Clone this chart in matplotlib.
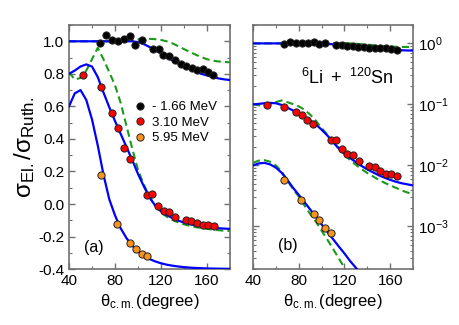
import matplotlib
matplotlib.use('Agg')
import matplotlib.pyplot as plt
from matplotlib.ticker import MultipleLocator, LogLocator, NullFormatter

plt.rcParams['font.family'] = ['Liberation Sans', 'DejaVu Sans']
plt.rcParams['mathtext.fontset'] = 'custom'
plt.rcParams['mathtext.rm'] = 'Liberation Sans'
plt.rcParams['mathtext.it'] = 'Liberation Sans:italic'

# === data (ratio to Rutherford) ===
energies = ['- 1.66 MeV', '3.10 MeV', '5.95 MeV']
colors = ['#000000', '#ff0000', '#f7931e']
lin_offsets = [0.0, -0.2, -0.4]     # shift used in panel (a)
log_scales = [1.0, 0.1, 0.01]       # factor used in panel (b)

theta_bk = [67, 72.2, 77.7, 82.9, 87.8, 93, 97.4, 103.2, 112.8, 118, 122, 127.2,
            132, 137.4, 141.7, 146.7, 151, 156.2, 160.6, 165.5]
ratio_bk = [0.99, 1.037, 1.01, 1.0, 1.015, 1.035, 0.98, 1.006, 0.95, 0.953, 0.918, 0.912,
            0.883, 0.863, 0.846, 0.836, 0.826, 0.83, 0.81, 0.793]

theta_rd = [51.9, 67.5, 77.4, 82.6, 87.5, 92.7, 107.8, 112.5, 117.7, 122.3, 127.2, 132.4,
            141.7, 146.4, 151.3, 156.2, 160.9, 165.8]
ratio_rd = [0.991, 0.917, 0.757, 0.667, 0.546, 0.478, 0.258, 0.261, 0.185, 0.156, 0.148, 0.119,
            0.099, 0.095, 0.082, 0.072, 0.072, 0.066]

theta_or = [67.5, 82, 93, 98, 103.2, 107.8]
ratio_or = [0.576, 0.275, 0.158, 0.126, 0.095, 0.079]

# calculations, sampled every 5 degrees from 40 to 180
theta_calc = list(range(40, 181, 5))

blue_bk = [1.0] * 12 + [0.995, 0.983, 0.965, 0.945, 0.925, 0.903, 0.882, 0.862, 0.845,
                        0.83, 0.815, 0.8, 0.79, 0.78, 0.772, 0.766, 0.762]
green_bk = [1.0] * 10 + [1.004, 1.008, 1.012, 1.015, 1.015, 1.013, 1.008, 1.0, 0.987, 0.97,
                         0.952, 0.935, 0.918, 0.903, 0.89, 0.881, 0.876, 0.873, 0.871]

blue_rd = [1.0, 1.02, 1.045, 1.058, 1.045, 0.98, 0.885, 0.795, 0.71, 0.63, 0.55, 0.47,
           0.385, 0.31, 0.24, 0.19, 0.155, 0.132, 0.113, 0.098, 0.086, 0.077, 0.069,
           0.063, 0.058, 0.054, 0.051, 0.049, 0.047]
green_rd = [1.01, 0.965, 0.975, 1.02, 1.09, 1.16, 1.09, 1.01, 0.93, 0.82, 0.68, 0.54,
            0.41, 0.32, 0.245, 0.19, 0.15, 0.122, 0.102, 0.087, 0.075, 0.066, 0.058,
            0.052, 0.047, 0.043, 0.039, 0.036, 0.034]

blue_or = [1.0, 1.08, 1.1, 1.04, 0.92, 0.76, 0.58, 0.43, 0.33, 0.25, 0.19, 0.145,
           0.108, 0.082, 0.062, 0.047, 0.036, 0.027, 0.021, 0.016, 0.012, 0.0092, 0.007,
           0.0054, 0.0042, 0.0033, 0.0026, 0.002, 0.0016]
green_or = [1.1, 1.2, 1.22, 1.15, 1.0, 0.8, 0.57, 0.41, 0.31, 0.22, 0.16, 0.12,
            0.085, 0.061, 0.043, 0.03, 0.021, 0.015, 0.011, 0.0075, 0.0053, 0.0037, 0.0026,
            0.0018, 0.0013, 0.0009, 0.00065, 0.00046, 0.00033]

data_theta = [theta_bk, theta_rd, theta_or]
data_ratio = [ratio_bk, ratio_rd, ratio_or]
blue_curves = [blue_bk, blue_rd, blue_or]
green_curves = [green_bk, green_rd, green_or]

BLUE = '#0000ff'
GREEN = '#1a9a1a'
SPINE = '#707070'

fig = plt.figure(figsize=(4.6, 3.25), dpi=100)
ax1 = fig.add_axes([0.15, 0.172, 0.35, 0.751])
ax2 = fig.add_axes([0.55, 0.172, 0.348, 0.751])


def style_axes(ax):
    for s in ax.spines.values():
        s.set_color(SPINE)
        s.set_linewidth(1.2)
    ax.tick_params(which='both', direction='in', top=True, right=True,
                   color=SPINE, labelsize=11)
    ax.tick_params(which='major', length=4, width=1.0)
    ax.tick_params(which='minor', length=2.5, width=0.8)
    ax.set_xlim(40, 180)
    ax.xaxis.set_major_locator(MultipleLocator(40))
    ax.xaxis.set_minor_locator(MultipleLocator(20))
    ax.set_xlabel(r'$\mathregular{θ_{c.m.}}$(degree)', fontsize=12, labelpad=3)


# === panel (a): linear, shifted ===
for i in range(3):
    off = lin_offsets[i]
    ax1.plot(theta_calc, [v + off for v in blue_curves[i]], color=BLUE, lw=1.6, zorder=3)
    if i < 2:
        ax1.plot(theta_calc, [v + off for v in green_curves[i]], color=GREEN, lw=1.5,
                 ls=(0, (3.5, 2)), zorder=2)
    ax1.plot(data_theta[i], [v + off for v in data_ratio[i]], 'o', ms=5.2,
             mfc=colors[i], mec='#222222', mew=0.7, zorder=4, label=energies[i])

style_axes(ax1)
ax1.set_ylim(-0.4, 1.1)
ax1.yaxis.set_major_locator(MultipleLocator(0.2))
ax1.yaxis.set_minor_locator(MultipleLocator(0.1))
ax1.yaxis.set_major_formatter(plt.FuncFormatter(lambda v, p: f'{v + 0.0:.1f}'))
ax1.set_ylabel(r'$\mathregular{σ_{El.}/σ_{Ruth.}}$', fontsize=17.5, labelpad=1)
ax1.text(0.155, 0.09, '(a)', transform=ax1.transAxes, fontsize=11.5,
         ha='center', va='center')
ax1.legend(loc='center left', bbox_to_anchor=(0.35, 0.6), frameon=False, fontsize=9.5,
           handletextpad=0.3, labelspacing=0.25, handlelength=1.2, borderpad=0)

# === panel (b): log, scaled ===
for i in range(3):
    sc = log_scales[i]
    ax2.plot(theta_calc, [v * sc for v in blue_curves[i]], color=BLUE, lw=1.6, zorder=3)
    ax2.plot(theta_calc, [v * sc for v in green_curves[i]], color=GREEN, lw=1.5,
             ls=(0, (3.5, 2)), zorder=2)
    ax2.plot(data_theta[i], [v * sc for v in data_ratio[i]], 'o', ms=5.2,
             mfc=colors[i], mec='#222222', mew=0.7, zorder=4)

style_axes(ax2)
ax2.set_yscale('log')
ax2.set_ylim(2e-4, 2)
ax2.yaxis.set_major_locator(LogLocator(base=10, numticks=10))
ax2.yaxis.set_minor_locator(LogLocator(base=10, subs=range(2, 10), numticks=10))
ax2.yaxis.set_minor_formatter(NullFormatter())
ax2.tick_params(axis='y', which='both', labelleft=False, labelright=True)
ax2.text(0.22, 0.095, '(b)', transform=ax2.transAxes, fontsize=11.5,
         ha='center', va='center')
ax2.text(0.3, 0.76, r'$\mathregular{^{6}Li\ +\ ^{120}Sn}$', transform=ax2.transAxes,
         fontsize=13)

fig.savefig('out.png', dpi=100)
